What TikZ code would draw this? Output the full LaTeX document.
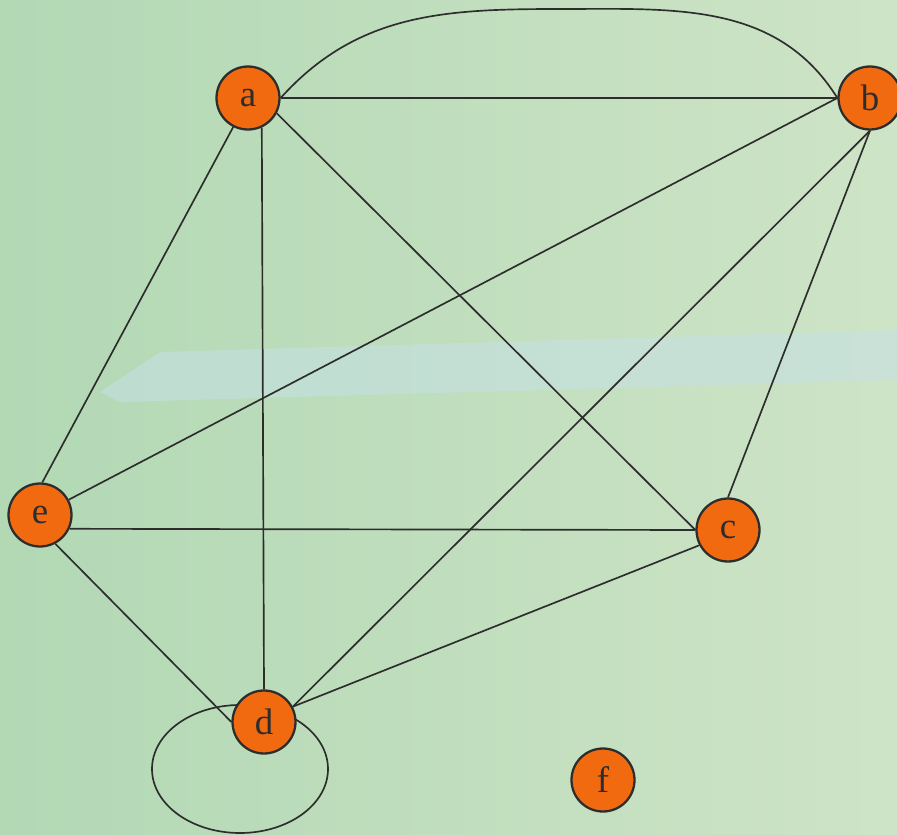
\documentclass[tikz,border=0pt]{standalone}
\usepackage{fontspec}
\setmainfont{Liberation Serif}
\usepackage{tikz}
\usetikzlibrary{positioning}
\definecolor{vertexorange}{RGB}{242,106,16}
\definecolor{edgegray}{RGB}{45,45,45}
\definecolor{paperleft}{RGB}{178,216,180}
\definecolor{paperright}{RGB}{206,228,198}
\definecolor{bandblue}{RGB}{198,224,230}
\tikzset{
  vertex/.style={
    circle,
    draw=edgegray,
    fill=vertexorange,
    line width=1.3pt,
    minimum size=1.26cm,
    inner sep=0pt,
    text=edgegray,
    font=\fontsize{21}{24}\selectfont
  },
  edge/.style={
    draw=edgegray,
    line width=0.95pt
  }
}

\begin{document}
\begin{tikzpicture}[x=0.02cm, y=-0.02cm]
  % Fix the page to the reference size
  \useasboundingbox (0,0) rectangle (897,835);

  % Background
  \shade[left color=paperleft, right color=paperright] (0,0) rectangle (897,835);
  \fill[bandblue, opacity=0.55] (100,392) -- (160,352) -- (897,330) -- (897,380) -- (120,402) -- cycle;

  % Loop at d (drawn first, the vertex covers it)
  \coordinate (dloop) at (240,769);
  \draw[edge] (dloop) ellipse [x radius=88, y radius=64];

  % Vertices
  \node[vertex] (a) at (248,98) {a};
  \node[vertex] (b) at (870,98) {b};
  \node[vertex] (c) at (728,530) {c};
  \node[vertex] (d) at (264,722) {d};
  \node[vertex] (e) at (40,515) {e};
  \node[vertex] (f) at (603,780) {f};

  % Edges
  \draw[edge] (a.east) -- (b.west);
  \draw[edge] (a.east) to[out=48, in=180] (560,9) to[out=0, in=122] (b.west);
  \draw[edge] (a.243) -- (e.86);
  \draw[edge] (a.295) -- (d.north);
  \draw[edge] (a.332) -- (c.west);
  \draw[edge] (b.west) -- (e.28);
  \draw[edge] (b.south) -- (d.28);
  \draw[edge] (b.south) -- (c.north);
  \draw[edge] (e.335) -- (c.west);
  \draw[edge] (e.298) -- (d.west);
  \draw[edge] (d.28) -- (c.208);
\end{tikzpicture}
\end{document}
